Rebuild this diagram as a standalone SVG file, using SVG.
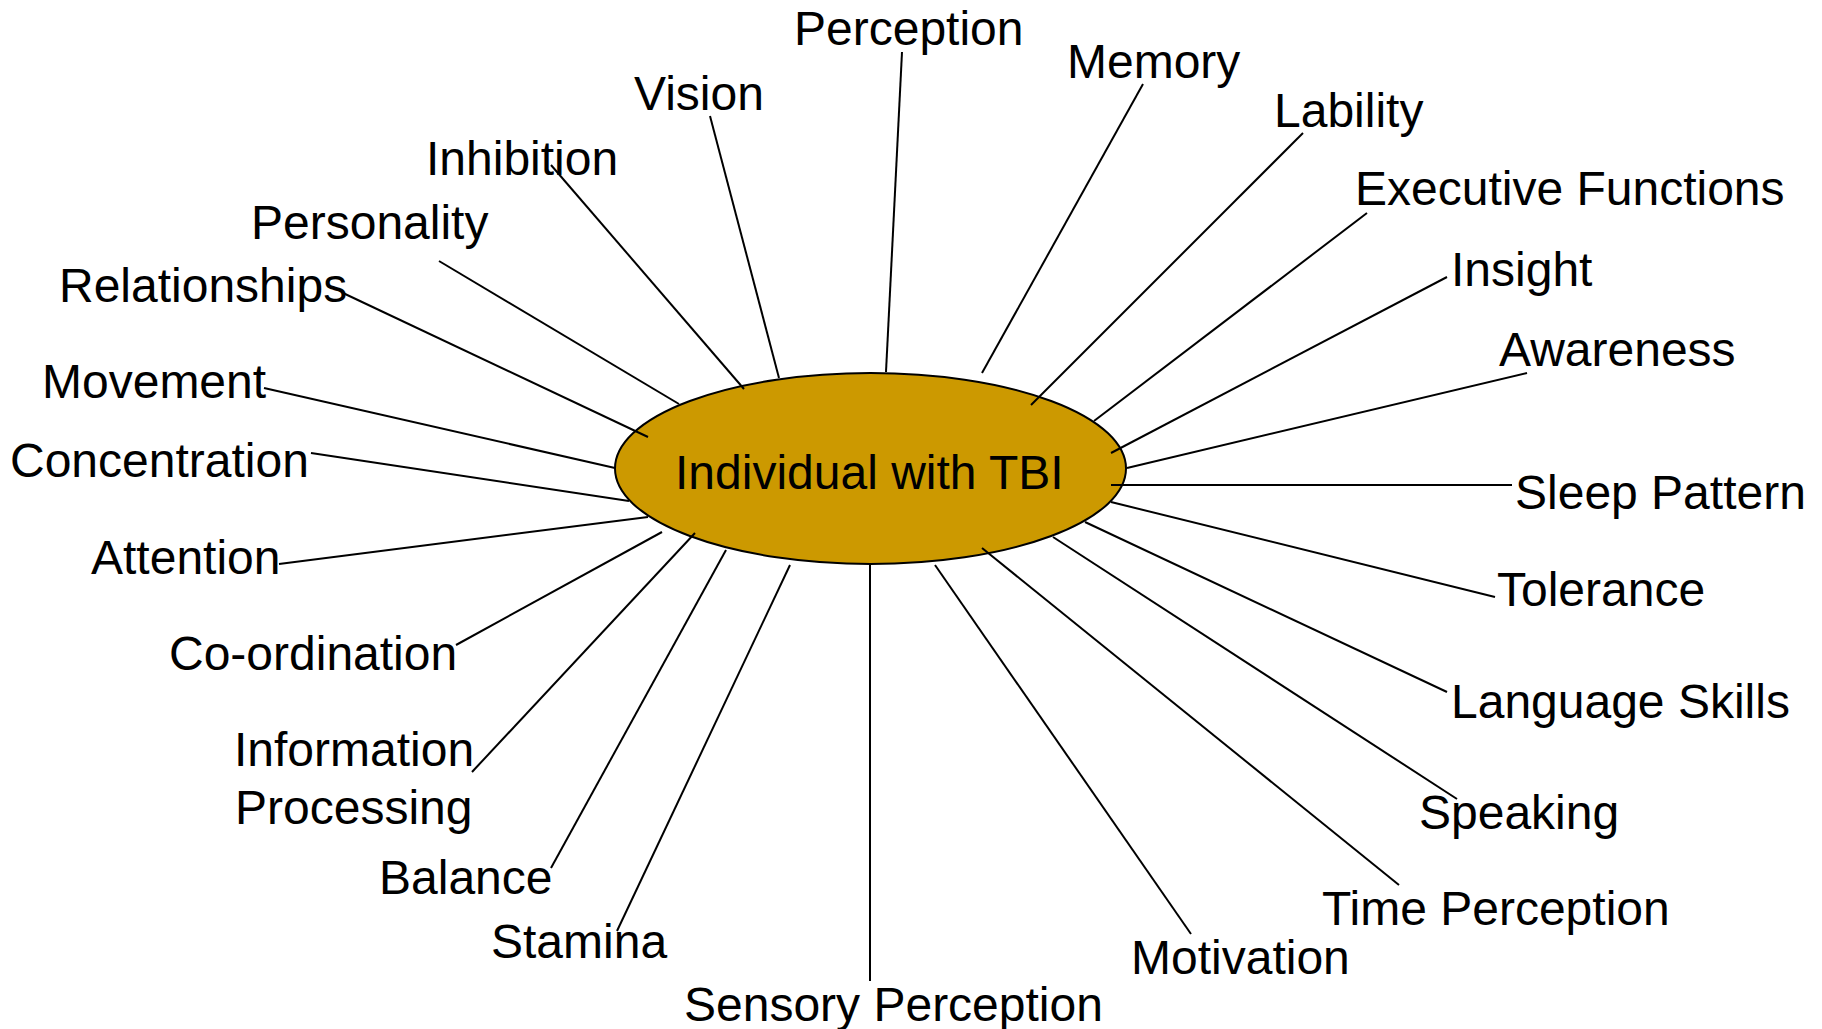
<svg xmlns="http://www.w3.org/2000/svg" width="1822" height="1029" viewBox="0 0 1822 1029">
<style>
.lbl{font-family:"Liberation Sans",Arial,sans-serif;font-size:48px;fill:#000}
.ln{stroke:#000;stroke-width:2;fill:none}
</style>
<rect width="1822" height="1029" fill="#fff"/>
<g id="center">
<ellipse cx="870.5" cy="468.5" rx="255.5" ry="95.5" fill="#CC9900" stroke="#000" stroke-width="2"/>
<text class="lbl" x="675" y="489">Individual with TBI</text>
</g>
<g id="connectors">
<line class="ln" x1="902" y1="52" x2="886" y2="372"/>
<line class="ln" x1="710" y1="116" x2="779" y2="378"/>
<line class="ln" x1="551" y1="165" x2="744" y2="389"/>
<line class="ln" x1="439" y1="261" x2="679" y2="404"/>
<line class="ln" x1="343" y1="293" x2="648" y2="437"/>
<line class="ln" x1="264" y1="388" x2="615" y2="468"/>
<line class="ln" x1="311" y1="453" x2="629" y2="501"/>
<line class="ln" x1="1143" y1="84" x2="982" y2="373"/>
<line class="ln" x1="1303" y1="133" x2="1031" y2="405"/>
<line class="ln" x1="1367" y1="213" x2="1094" y2="421"/>
<line class="ln" x1="1447" y1="277" x2="1111" y2="453"/>
<line class="ln" x1="1527" y1="373" x2="1127" y2="468"/>
<line class="ln" x1="1512" y1="485" x2="1111" y2="485"/>
<line class="ln" x1="1495" y1="597" x2="1111" y2="502"/>
<line class="ln" x1="1447" y1="692" x2="1085" y2="522"/>
<line class="ln" x1="1457" y1="799" x2="1053" y2="537"/>
<line class="ln" x1="1399" y1="885" x2="982" y2="548"/>
<line class="ln" x1="1191" y1="934" x2="935" y2="565"/>
<line class="ln" x1="870" y1="981" x2="870" y2="565"/>
<line class="ln" x1="617" y1="931" x2="790" y2="565"/>
<line class="ln" x1="551" y1="868" x2="726" y2="550"/>
<line class="ln" x1="472" y1="772" x2="695" y2="533"/>
<line class="ln" x1="456" y1="645" x2="662" y2="532"/>
<line class="ln" x1="279" y1="564" x2="648" y2="517"/>
</g>
<g id="n-perception"><text class="lbl" x="794" y="45">Perception</text></g>
<g id="n-vision"><text class="lbl" x="634" y="110">Vision</text></g>
<g id="n-inhibition"><text class="lbl" x="426" y="175">Inhibition</text></g>
<g id="n-personality"><text class="lbl" x="251" y="239">Personality</text></g>
<g id="n-relationships"><text class="lbl" x="59" y="302">Relationships</text></g>
<g id="n-movement"><text class="lbl" x="42" y="398">Movement</text></g>
<g id="n-concentration"><text class="lbl" x="10" y="477">Concentration</text></g>
<g id="n-attention"><text class="lbl" x="91" y="574">Attention</text></g>
<g id="n-coordination"><text class="lbl" x="169" y="670">Co-ordination</text></g>
<g id="n-information"><text class="lbl" x="234" y="766">Information</text><text class="lbl" x="235" y="824">Processing</text></g>
<g id="n-balance"><text class="lbl" x="379" y="894">Balance</text></g>
<g id="n-stamina"><text class="lbl" x="491" y="958">Stamina</text></g>
<g id="n-sensory"><text class="lbl" x="684" y="1021">Sensory Perception</text></g>
<g id="n-memory"><text class="lbl" x="1067" y="78">Memory</text></g>
<g id="n-lability"><text class="lbl" x="1274" y="127">Lability</text></g>
<g id="n-executive"><text class="lbl" x="1355" y="205">Executive Functions</text></g>
<g id="n-insight"><text class="lbl" x="1451" y="286">Insight</text></g>
<g id="n-awareness"><text class="lbl" x="1499" y="366">Awareness</text></g>
<g id="n-sleep"><text class="lbl" x="1515" y="509">Sleep Pattern</text></g>
<g id="n-tolerance"><text class="lbl" x="1497" y="606">Tolerance</text></g>
<g id="n-language"><text class="lbl" x="1451" y="718">Language Skills</text></g>
<g id="n-speaking"><text class="lbl" x="1419" y="829">Speaking</text></g>
<g id="n-time"><text class="lbl" x="1322" y="925">Time Perception</text></g>
<g id="n-motivation"><text class="lbl" x="1131" y="974">Motivation</text></g>
</svg>
